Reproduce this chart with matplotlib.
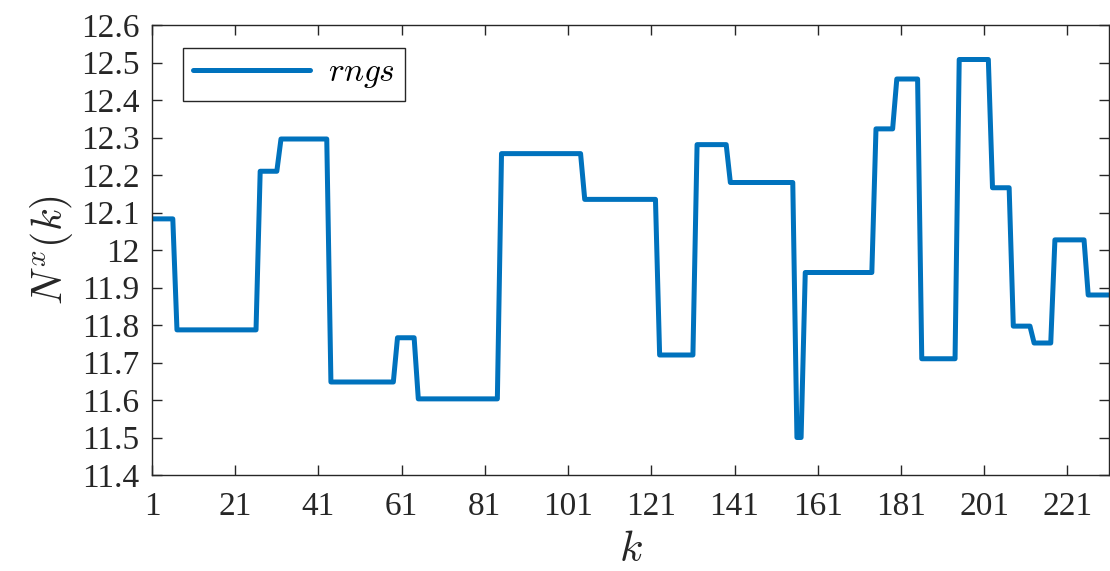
import numpy as np
import matplotlib
matplotlib.use('Agg')
import matplotlib.pyplot as plt

""" Corner points of the N^x(k) trace """

kVals = [1, 6, 7, 26, 27, 31, 32, 43, 44, 59, 60, 64, 65, 84, 85, 104, 105,
         122, 123, 131, 132, 139, 140, 155, 156, 157, 158, 174, 175, 179, 180,
         185, 186, 194, 195, 202, 203, 207, 208, 212, 213, 217, 218, 225,
         226, 231]
nVals = [12.083, 12.083, 11.787, 11.787, 12.21, 12.21, 12.296, 12.296,
         11.648, 11.648, 11.766, 11.766, 11.603, 11.603, 12.257, 12.257,
         12.135, 12.135, 11.72, 11.72, 12.281, 12.281, 12.18, 12.18, 11.5,
         11.5, 11.94, 11.94, 12.323, 12.323, 12.456, 12.456, 11.71, 11.71,
         12.508, 12.508, 12.166, 12.166, 11.797, 11.797, 11.752, 11.752,
         12.027, 12.027, 11.88, 11.88]

xTicks = [1, 21, 41, 61, 81, 101, 121, 141, 161, 181, 201, 221]
yTicks = [11.4, 11.5, 11.6, 11.7, 11.8, 11.9, 12.0, 12.1, 12.2, 12.3, 12.4, 12.5, 12.6]
yTickLabels = ['11.4', '11.5', '11.6', '11.7', '11.8', '11.9', '12',
               '12.1', '12.2', '12.3', '12.4', '12.5', '12.6']

plt.rcParams['mathtext.fontset'] = 'cm'
plt.rcParams['font.family'] = ['Liberation Serif', 'DejaVu Serif']

axisCol = '#262626'
fig = plt.figure(figsize=(11.1, 5.71), dpi=100)
ax = fig.add_axes([152/1110, 1 - 475/571, 957/1110, 450/571])
ax.plot(kVals, nVals, color='#0072BD', linewidth=3.6, label='$rngs$',
        solid_joinstyle='round', solid_capstyle='round')
ax.set_xlim(1, 231)
ax.set_ylim(11.4, 12.6)
ax.set_xticks(xTicks)
ax.set_xticklabels([str(t) for t in xTicks])
ax.set_yticks(yTicks)
ax.set_yticklabels(yTickLabels)
ax.tick_params(direction='in', length=7, width=1.0, top=True, right=True,
               labelsize=24, colors=axisCol, labelcolor=axisCol)
ax.tick_params(axis='x', pad=12)
ax.tick_params(axis='y', pad=9)
for sp in ax.spines.values():
    sp.set_color(axisCol)
    sp.set_linewidth(1.0)
ax.set_xlabel('$k$', fontsize=31, color=axisCol, labelpad=7)
ax.set_ylabel('$N^x(k)$', fontsize=30, color=axisCol, labelpad=4)
leg = ax.legend(loc='upper left', fontsize=24, frameon=True, fancybox=False,
                edgecolor=axisCol, handlelength=3.5, handletextpad=0.55,
                borderpad=0.3, borderaxespad=0,
                bbox_to_anchor=(31/957, 427/450))
leg.get_frame().set_linewidth(1.0)
leg.get_frame().set_alpha(1)
plt.savefig('out.png', dpi=100)
